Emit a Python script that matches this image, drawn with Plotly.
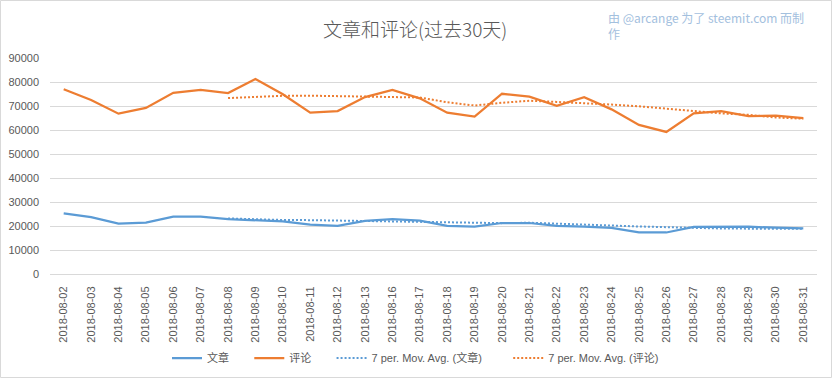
import plotly.graph_objects as go

dates = ["2018-08-02", "2018-08-03", "2018-08-04", "2018-08-05", "2018-08-06", "2018-08-07",
         "2018-08-08", "2018-08-09", "2018-08-10", "2018-08-11", "2018-08-12", "2018-08-13",
         "2018-08-16", "2018-08-17", "2018-08-18", "2018-08-19", "2018-08-20", "2018-08-21",
         "2018-08-22", "2018-08-23", "2018-08-24", "2018-08-25", "2018-08-26", "2018-08-27",
         "2018-08-28", "2018-08-29", "2018-08-30", "2018-08-31"]

articles = [25300, 23700, 21000, 21400, 23900, 23900, 22900, 22500, 21900, 20600, 20100, 22100,
            22900, 22200, 20100, 19700, 21250, 21250, 20100, 19700, 19200, 17300, 17300, 19600,
            19600, 19700, 19300, 19000]

comments = [77000, 72500, 66800, 69200, 75500, 76700, 75400, 81200, 74900, 67200, 67900, 73700,
            76700, 73200, 67200, 65600, 75100, 73900, 70100, 73700, 68600, 62100, 59200, 66900,
            67900, 65800, 66000, 64900]

# 7-period moving averages (start at 2018-08-08)
articles_ma = [None] * 6 + [23160, 22760, 22500, 22440, 22260, 22000, 21860, 21760, 21410, 21100,
                            21190, 21360, 21070, 20610, 20190, 19790, 19440, 19200, 18960, 18900,
                            18840, 18840]
comments_ma = [None] * 6 + [73300, 73900, 74240, 74300, 74110, 73860, 73860, 73540, 71540, 70210,
                            71340, 72200, 71690, 71260, 70600, 69870, 68960, 67790, 66930, 66310,
                            65210, 64690]

y_ticks = [0, 10000, 20000, 30000, 40000, 50000, 60000, 70000, 80000, 90000]
y_tick_labels = ["0", "10000", "20000", "30000", "40000", "50000", "60000", "70000", "80000", "90000"]

series_names = ["文章", "评论", "7 per. Mov. Avg. (文章)", "7 per. Mov. Avg. (评论)"]

BLUE = "#5b9bd5"
ORANGE = "#ed7d31"
TXT = "#595959"
BASE_FONT = "Liberation Sans, Arial, Noto Sans CJK SC"
NB = "\u00a0"

fig = go.Figure()
fig.add_trace(go.Scatter(x=dates, y=articles, mode="lines", name=series_names[0] + NB * 5,
                         line=dict(color=BLUE, width=2.25)))
fig.add_trace(go.Scatter(x=dates, y=comments, mode="lines", name=series_names[1] + NB * 5,
                         line=dict(color=ORANGE, width=2.25)))
fig.add_trace(go.Scatter(x=dates, y=articles_ma, mode="lines", name=series_names[2] + NB * 7,
                         line=dict(color=BLUE, width=2, dash="2px,2px")))
fig.add_trace(go.Scatter(x=dates, y=comments_ma, mode="lines", name=series_names[3],
                         line=dict(color=ORANGE, width=2, dash="2px,2px")))

fig.update_layout(
    width=832, height=378,
    margin=dict(l=50, r=15, t=58, b=104, autoexpand=False),
    paper_bgcolor="white", plot_bgcolor="white",
    font=dict(family=BASE_FONT, size=11, color=TXT),
    title=dict(text="文章和评论(过去30天)", x=0.499, xref="container", xanchor="center",
               y=1 - 30 / 378, yref="container", yanchor="middle",
               font=dict(family="Noto Sans CJK SC", size=19, color=TXT, weight=300)),
    xaxis=dict(type="category", tickangle=-90, showgrid=False, showline=True,
               linecolor="#d9d9d9", linewidth=1, ticks="", tickfont=dict(size=11, color=TXT),
               range=[-0.5, len(dates) - 0.5], automargin=False, ticklabelstandoff=7),
    yaxis=dict(range=[0, 90000], tickvals=y_ticks, ticktext=y_tick_labels, showgrid=True,
               gridcolor="#d9d9d9", gridwidth=1, zeroline=False, showline=False, ticks="",
               tickfont=dict(size=11, color=TXT), ticklabelstandoff=10, automargin=False),
    legend=dict(orientation="h", x=(167 - 50) / 767, xanchor="left", y=(274 - 358) / 216,
                yanchor="middle", font=dict(size=11, color=TXT), itemwidth=30,
                bgcolor="rgba(0,0,0,0)"),
    showlegend=True,
)

fig.add_annotation(text="由 @arcange 为了 steemit.com 而制<br>作", xref="paper", yref="paper",
                   x=(606 - 50) / 767, y=(274 - 7) / 216, xanchor="left", yanchor="top",
                   align="left", showarrow=False,
                   font=dict(family="Noto Sans CJK SC", size=12, color="#a3c0de"))

fig.add_shape(type="rect", xref="paper", yref="paper",
              x0=(0.5 - 50) / 767, x1=(831.5 - 50) / 767,
              y0=(274 - 377.5) / 216, y1=(274 - 0.5) / 216,
              line=dict(color="#d9d9d9", width=1), layer="below")

fig.write_html("out.html", config={"displayModeBar": False},
               post_script="document.body.style.margin='0';")
